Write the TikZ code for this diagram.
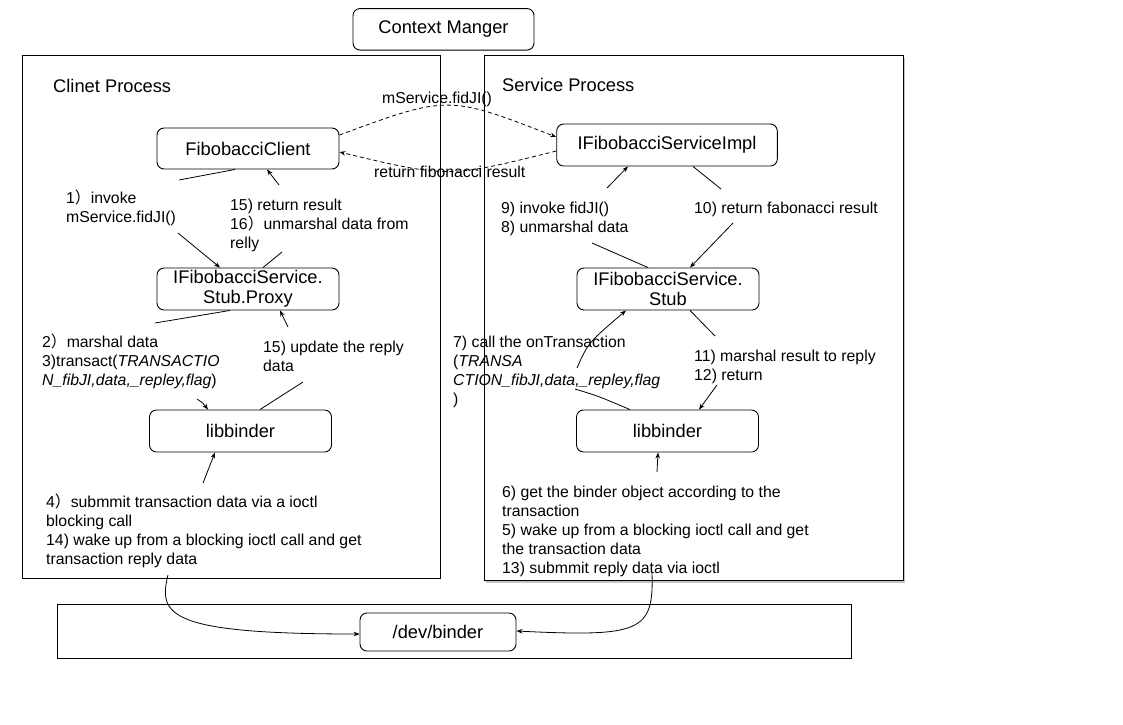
\documentclass[tikz,border=0pt]{standalone}
\usepackage{fontspec}
\setmainfont{Liberation Sans}
\newfontfamily\cjkfont{Noto Sans CJK SC}
\usetikzlibrary{arrows.meta,shadows}
\newcommand{\fp}{{\cjkfont ）}}
\begin{document}
\begin{tikzpicture}[x=1pt,y=-1pt,
  box/.style={draw, rounded corners=7pt, line width=0.9pt, minimum width=182, minimum height=42,
    font=\fontsize{18.3}{20}\selectfont, inner sep=0pt, align=center},
  proc/.style={draw, line width=0.9pt},
  lbl/.style={anchor=base west, inner sep=0pt, font=\fontsize{15.8}{19}\selectfont},
  ttl/.style={anchor=base west, inner sep=0pt, font=\fontsize{18.3}{22}\selectfont},
  ln/.style={line width=0.8pt},
  arr/.style={line width=0.8pt, -{Stealth[length=6pt,width=4.5pt]}},
  dsh/.style={arr, dash pattern=on 4pt off 3pt}]
\useasboundingbox (0,0) rectangle (1123,724);
\fill[white] (0,0) rectangle (1123,724);

% containers
\draw[proc] (22,55) rectangle (440,578);
\draw[proc, fill=white, drop shadow={shadow xshift=2pt, shadow yshift=-3pt, fill=black!45, opacity=0.5}] (484,55) rectangle (903,580);
\draw[proc] (57,604) rectangle (851,658);

\node[ttl] (tclient) at (53,92.5) {Clinet Process};
\node[ttl] (tservice) at (502,91.5) {Service Process};

% nodes
\node[box, minimum width=181, minimum height=41.5] (cm) at (443.5,29.3) {Context Manger};
\node[box, minimum height=41] (client) at (248,148.5) {FibobacciClient};
\node[box, minimum width=220.6] (impl) at (667,145) {IFibobacciServiceImpl};
\node[box] (proxy) at (248,289) {IFibobacciService.\\Stub.Proxy};
\node[box] (stub) at (668,289) {IFibobacciService.\\Stub};
\node[box] (lbL) at (240.5,431) {libbinder};
\node[box] (lbR) at (667.5,431) {libbinder};
\node[box, minimum width=156, minimum height=38] (binder) at (438,632) {/dev/binder};

% free ends
\coordinate (a1) at (179,180); \coordinate (a2) at (178,233);
\coordinate (b1) at (282,252); \coordinate (b2) at (279,185);
\coordinate (c1) at (155,323); \coordinate (c2) at (197,399);
\coordinate (d1) at (303,382); \coordinate (d2) at (288,327);
\coordinate (e1) at (203,483); \coordinate (e2) at (168,575);
\coordinate (f1) at (592,243); \coordinate (f2) at (607,188);
\coordinate (g1) at (721,189); \coordinate (g2) at (733,223);
\coordinate (h1) at (575,389); \coordinate (h2) at (577,368);
\coordinate (i1) at (715,336); \coordinate (i2) at (717,385);
\coordinate (j1) at (657,472); \coordinate (j2) at (652,573);

% dashed calls
\draw[dsh] ([yshift=13.5pt]client.east) .. controls (448,95) .. ([yshift=8pt]impl.west);
\draw[dsh] ([yshift=-6pt]impl.west) .. controls (448,178) .. ([yshift=-3.5pt]client.east);
\node[lbl] (lk) at (382,103.8) {mService.fidJI()};
\node[lbl] (ll) at (374,177.5) {return fibonacci result};

% client side connectors
\draw[ln] ([xshift=-13pt]client.south) -- (a1);
\draw[arr] (a2) -- ([xshift=-28pt]proxy.north);
\draw[ln] ([xshift=15pt]proxy.north) -- (b1);
\draw[arr] (b2) -- ([xshift=19pt]client.south);
\draw[ln] ([xshift=-18pt]proxy.south) -- (c1);
\draw[arr] (c2) .. controls (203,403) .. ([xshift=-32.5pt]lbL.north);
\draw[ln] ([xshift=19.5pt]lbL.north) -- (d1);
\draw[arr] (d2) -- ([xshift=32pt]proxy.south);
\draw[arr] (e1) -- ([xshift=-25.5pt]lbL.south);
\draw[arr] (e2) .. controls (158,615) and (168,634) .. ([yshift=-2pt]binder.west);

% service side connectors
\draw[ln] ([xshift=-20pt]stub.north) -- (f1);
\draw[arr] (f2) -- ([xshift=-39pt]impl.south);
\draw[ln] ([xshift=26pt]impl.south) -- (g1);
\draw[arr] (g2) -- ([xshift=22pt]stub.north);
\draw[ln] ([xshift=-37.5pt]lbR.north) .. controls (598,396) .. (h1);
\draw[arr] (h2) .. controls (588,343) .. ([xshift=-42pt]stub.south);
\draw[ln] ([xshift=22pt]stub.south) -- (i1);
\draw[arr] (i2) -- ([xshift=31.5pt]lbR.north);
\draw[arr] (j1) -- ([xshift=-9.5pt]lbR.south);
\draw[arr] (j2) .. controls (654,632) and (640,637) .. ([yshift=1pt]binder.east);

% labels
\node[lbl] (la) at (66,203.5) {\begin{tabular}[t]{@{}l@{}}1\fp invoke\\mService.fidJI()\end{tabular}};
\node[lbl] (lb) at (230,210.5) {\begin{tabular}[t]{@{}l@{}}15) return result\\16\fp unmarshal data from\\relly\end{tabular}};
\node[lbl] (lc) at (42,347.5) {\begin{tabular}[t]{@{}l@{}}2\fp marshal data\\3)transact(\textit{TRANSACTIO}\\\textit{N\_fibJI,data,\_repley,flag})\end{tabular}};
\node[lbl] (ld) at (263,352) {\begin{tabular}[t]{@{}l@{}}15) update the reply\\data\end{tabular}};
\node[lbl] (le) at (46,507.5) {\begin{tabular}[t]{@{}l@{}}4\fp submmit transaction data via a ioctl\\blocking call\\14) wake up from a blocking ioctl call and get\\transaction reply data\end{tabular}};
\node[lbl] (lf) at (501,213.5) {\begin{tabular}[t]{@{}l@{}}9) invoke fidJI()\\8) unmarshal data\end{tabular}};
\node[lbl] (lg) at (694,213.5) {10) return fabonacci result};
\node[lbl] (lh) at (453,347.5) {\begin{tabular}[t]{@{}l@{}}7) call the onTransaction\\(\textit{TRANSA}\\\textit{CTION\_fibJI,data,\_repley,flag}\\)\end{tabular}};
\node[lbl] (li) at (694,361.5) {\begin{tabular}[t]{@{}l@{}}11) marshal result to reply\\12) return\end{tabular}};
\node[lbl] (lj) at (502,497.5) {\begin{tabular}[t]{@{}l@{}}6) get the binder object according to the\\transaction\\5) wake up from a blocking ioctl call and get\\the transaction data\\13) submmit reply data via ioctl\end{tabular}};
\end{tikzpicture}
\end{document}
